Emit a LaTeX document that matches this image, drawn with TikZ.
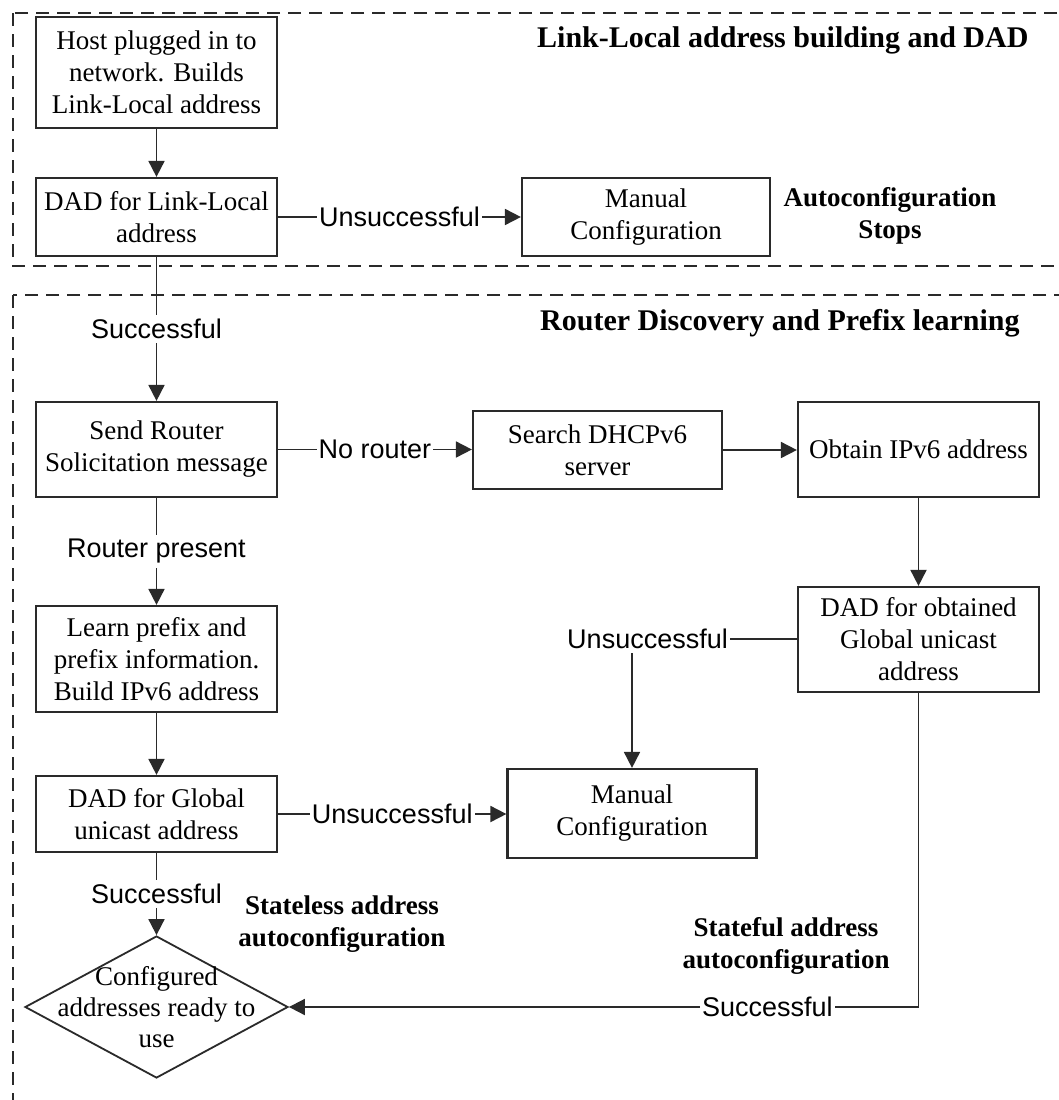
\documentclass[tikz,border=0pt]{standalone}
\usepackage{fontspec}
\setmainfont{Liberation Serif}
\newfontfamily\labelsans{Liberation Sans}
\usetikzlibrary{arrows.meta,shapes.geometric}
\definecolor{edge}{HTML}{2A2A2A}
\begin{document}
\begin{tikzpicture}[x=1pt,y=-1pt,
  stepbox/.style={draw=edge, line width=2.2pt, align=center, inner sep=0pt,
    font=\fontsize{27}{32}\selectfont},
  region/.style={draw=edge, line width=1.8pt, dash pattern=on 13pt off 8pt},
  conn/.style={draw=edge, line width=1.8pt},
  arr/.style={conn, -{Triangle[length=16pt,width=16pt]}},
  lbl/.style={fill=white, inner xsep=2pt, inner ysep=4pt,
    font=\labelsans\fontsize{27}{30}\selectfont},
  heading/.style={font=\bfseries\fontsize{30}{34}\selectfont, inner sep=0pt},
  note/.style={font=\bfseries\fontsize{27}{32}\selectfont, align=center, inner sep=0pt}
]
\clip (0,0) rectangle (1059,1100);
\fill[white] (0,0) rectangle (1059,1100);

% phase regions
\draw[region] (13,13) rectangle (1080,266);
\draw[region] (13,295) rectangle (1080,1120);

\node[heading, anchor=west] (h1) at (537,40) {Link-Local address building and DAD};
\node[heading, anchor=west] (h2) at (540,323) {Router Discovery and Prefix learning};

% steps
\node[stepbox, minimum width=241pt, minimum height=111pt] (host) at (156.5,72.5)
  {Host plugged in to\\network. Builds\\Link-Local address};
\node[stepbox, minimum width=241pt, minimum height=78pt] (dadll) at (156.5,217)
  {DAD for Link-Local\\address};
\node[stepbox, minimum width=248pt, minimum height=78pt] (man1) at (646,217)
  {Manual\\Configuration};
\node[note] (stop) at (890,216) {Autoconfiguration\\Stops};

\node[stepbox, minimum width=241pt, minimum height=95pt] (rs) at (156.5,449.5)
  {Send Router\\Solicitation message};
\node[stepbox, minimum width=249pt, minimum height=78pt] (dhcp) at (597.5,450)
  {Search DHCPv6\\server};
\node[stepbox, minimum width=241pt, minimum height=95pt] (obt) at (918.5,449.5)
  {Obtain IPv6 address};
\node[stepbox, minimum width=241pt, minimum height=105pt] (dado) at (918.5,639.5)
  {DAD for obtained\\Global unicast\\address};
\node[stepbox, minimum width=241pt, minimum height=106pt] (lp) at (156.5,659)
  {Learn prefix and\\prefix information.\\Build IPv6 address};
\node[stepbox, minimum width=241pt, minimum height=76pt] (dadg) at (156.5,814)
  {DAD for Global\\unicast address};
\node[stepbox, minimum width=249pt, minimum height=89pt] (man2) at (632,813.5)
  {Manual\\Configuration};

\node[draw=edge, diamond, line width=1.8pt, minimum width=263pt, minimum height=142pt,
  inner sep=0pt] (ready) at (156.5,1007) {};
\node[stepbox, draw=none, font=\fontsize{27}{31}\selectfont] (readytxt) at (ready.center)
  {Configured\\addresses ready to\\use};

\node[note] (stateless) at (342,924) {Stateless address\\autoconfiguration};
\node[note] (stateful) at (786,946) {Stateful address\\autoconfiguration};

% connectors
\draw[arr] (host) -- (dadll);
\draw[arr] (dadll) -- node[lbl] {Unsuccessful} (man1);
\draw[arr] (dadll) -- node[lbl] {Successful} (rs);
\draw[arr] (rs.east) -- node[lbl] {No router} (rs.east -| dhcp.west);
\draw[arr] (dhcp) -- (dhcp -| obt.west);
\draw[arr] (obt) -- (dado);
\node[lbl, anchor=east] (unsucc) at (730,639) {Unsuccessful};
\draw[conn] (dado.west |- unsucc.east) -- (unsucc.east);
\draw[arr] (unsucc.south -| man2.north) -- (man2.north);
\draw[arr] (rs) -- node[lbl] {Router present} (lp);
\draw[arr] (lp) -- (dadg);
\draw[arr] (dadg.east) -- node[lbl] {Unsuccessful} (dadg.east -| man2.west);
\draw[arr] (dadg) -- node[lbl] {Successful} (ready.north);
\draw[arr] (dado.south) |- node[lbl, pos=0.62] {Successful} (ready.east);
\end{tikzpicture}
\end{document}
